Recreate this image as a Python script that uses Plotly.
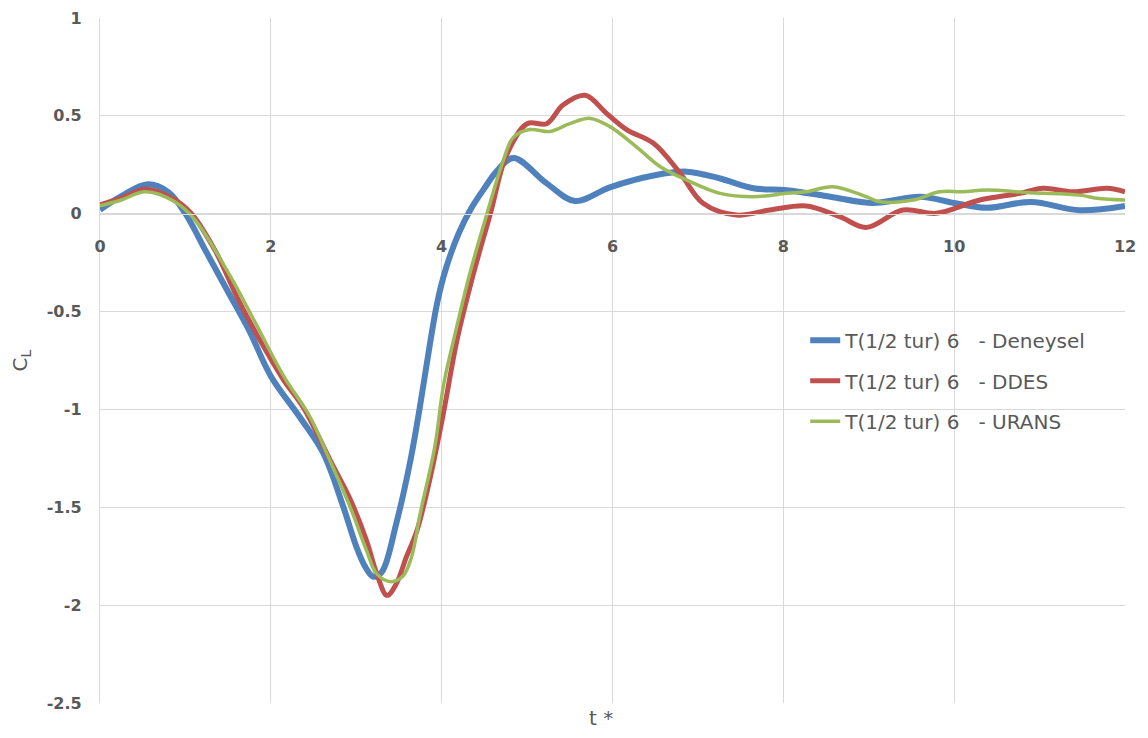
import plotly.graph_objects as go

# Deneysel (experiment)
t_exp = [0, 0.25, 0.56, 0.8, 1.0, 1.25, 1.5, 1.75, 2.0, 2.34, 2.61, 2.85, 3.0, 3.1, 3.2, 3.3, 3.47, 3.63, 3.74,
         3.85, 3.95, 4.05, 4.2, 4.35, 4.5, 4.65, 4.84, 5.23, 5.56, 5.97, 6.48, 6.87, 7.26, 7.65, 8.04, 8.55, 9.05,
         9.6, 10.0, 10.38, 10.9, 11.47, 12.0]
cl_exp = [0.02, 0.09, 0.15, 0.11, 0.0, -0.2, -0.4, -0.6, -0.83, -1.04, -1.22, -1.5, -1.7, -1.8, -1.855, -1.83,
          -1.58, -1.27, -1.0, -0.7, -0.45, -0.28, -0.1, 0.03, 0.13, 0.22, 0.285, 0.155, 0.065, 0.135, 0.195, 0.215,
          0.18, 0.13, 0.12, 0.087, 0.055, 0.087, 0.055, 0.03, 0.06, 0.018, 0.04]

# DDES
t_ddes = [0, 0.25, 0.53, 0.84, 1.07, 1.35, 1.62, 1.89, 2.15, 2.38, 2.73, 2.93, 3.12, 3.24, 3.36, 3.47, 3.59,
          3.71, 3.86, 4.02, 4.18, 4.37, 4.57, 4.76, 5.0, 5.23, 5.42, 5.68, 5.93, 6.17, 6.48, 6.79, 7.06, 7.45,
          7.84, 8.27, 8.66, 8.97, 9.4, 9.79, 10.3, 10.77, 11.04, 11.39, 11.79, 12.0]
cl_ddes = [0.045, 0.08, 0.125, 0.08, 0.0, -0.19, -0.44, -0.66, -0.85, -0.99, -1.29, -1.46, -1.67, -1.84, -1.95,
           -1.89, -1.75, -1.62, -1.36, -1.02, -0.645, -0.31, 0.0, 0.3, 0.46, 0.46, 0.555, 0.605, 0.513, 0.428,
           0.36, 0.208, 0.053, -0.007, 0.019, 0.04, -0.015, -0.07, 0.019, 0.002, 0.07, 0.104, 0.13, 0.112, 0.13,
           0.112]

# URANS
t_urans = [0, 0.25, 0.53, 0.88, 1.11, 1.5, 1.81, 2.15, 2.46, 2.69, 2.93, 3.12, 3.24, 3.41, 3.55, 3.65, 3.75,
           3.92, 4.02, 4.14, 4.33, 4.53, 4.72, 4.84, 5.03, 5.27, 5.5, 5.74, 5.97, 6.28, 6.56, 6.87, 7.26, 7.65,
           8.04, 8.27, 8.58, 8.97, 9.13, 9.52, 9.83, 10.1, 10.38, 10.89, 11.47, 11.67, 12.0]
cl_urans = [0.04, 0.07, 0.112, 0.06, -0.03, -0.3, -0.55, -0.83, -1.04, -1.26, -1.5, -1.72, -1.84, -1.88, -1.85,
            -1.75, -1.53, -1.19, -0.88, -0.645, -0.305, 0.0, 0.27, 0.39, 0.43, 0.42, 0.46, 0.487, 0.445, 0.342,
            0.24, 0.172, 0.104, 0.087, 0.104, 0.112, 0.138, 0.087, 0.061, 0.07, 0.112, 0.112, 0.121, 0.107, 0.095,
            0.079, 0.07]

names = ["T(1/2 tur) 6\u00a0\u00a0\u00a0- Deneysel",
         "T(1/2 tur) 6\u00a0\u00a0\u00a0- DDES",
         "T(1/2 tur) 6\u00a0\u00a0\u00a0- URANS"]
x_ticks = [0, 2, 4, 6, 8, 10, 12]
y_ticks = [1, 0.5, 0, -0.5, -1, -1.5, -2, -2.5]

GRAY = "#595959"
FONT = "DejaVu Sans, sans-serif"

fig = go.Figure()
fig.add_trace(go.Scatter(x=t_exp, y=cl_exp, mode="lines", name=names[0], legendgroup="a",
                         line=dict(color="#4f81bd", width=6, shape="spline")))
fig.add_trace(go.Scatter(x=t_ddes, y=cl_ddes, mode="lines", name=names[1], legendgroup="b",
                         line=dict(color="#c0504d", width=5, shape="spline")))
fig.add_trace(go.Scatter(x=t_urans, y=cl_urans, mode="lines", name=names[2], legendgroup="c",
                         line=dict(color="#9bbb59", width=3.5, shape="spline")))

ymin, ymax = -2.5, 1
fig.update_layout(
    width=1132, height=722,
    margin=dict(l=92, r=15, t=10, b=27, autoexpand=False),
    plot_bgcolor="white", paper_bgcolor="white",
    font=dict(family=FONT, color=GRAY, size=16),
    showlegend=True,
    legend=dict(x=0.688, y=0.558, xanchor="left", yanchor="top",
                bgcolor="rgba(0,0,0,0)", font=dict(size=20, color=GRAY, family=FONT),
                tracegroupgap=11.5, itemwidth=30),
    xaxis=dict(range=[0, 12], tickvals=x_ticks, showgrid=True, gridcolor="#d9d9d9", gridwidth=1.3,
               zeroline=False, showline=True, linecolor="#d9d9d9", linewidth=1.3,
               anchor="free", position=(0 - ymin) / (ymax - ymin),
               ticks="", ticklabelstandoff=18,
               tickfont=dict(size=16, color=GRAY, family=FONT, weight="bold")),
    yaxis=dict(range=[ymin, ymax], tickvals=y_ticks, ticktext=[str(v) for v in y_ticks],
               showgrid=True, gridcolor="#d9d9d9", gridwidth=1.3,
               zeroline=False, showline=True, linecolor="#d9d9d9", linewidth=1.3,
               ticks="", ticklabelstandoff=14,
               tickfont=dict(size=16, color=GRAY, family=FONT, weight="bold"),
               title=dict(text="C<sub>L</sub>", font=dict(size=20, color=GRAY, family=FONT), standoff=26)),
)
fig.add_annotation(text="t *", xref="paper", yref="paper", x=0.489, y=0, yshift=-15,
                   showarrow=False, font=dict(size=20, color=GRAY, family=FONT),
                   xanchor="center", yanchor="middle")

fig.write_html("out.html")
